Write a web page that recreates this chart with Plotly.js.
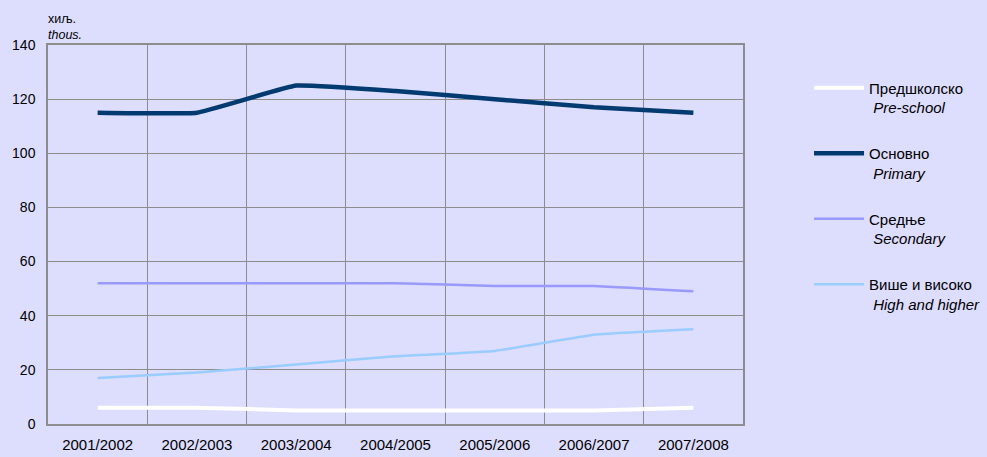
<!DOCTYPE html>
<html><head><meta charset="utf-8">
<script src="https://cdn.plot.ly/plotly-3.0.1.min.js"></script>
<style>body{margin:0;background:#DDDDFE}</style>
</head><body><div id="chart" style="width:987px;height:457px"></div>
<script>
const years = ["2001/2002","2002/2003","2003/2004","2004/2005","2005/2006","2006/2007","2007/2008"];
const preschool = [6, 6, 5, 5, 5, 5, 6];
const primary = [115, 115, 125, 123, 120, 117, 115];
const secondary = [52, 52, 52, 52, 51, 51, 49];
const higher = [17, 19, 22, 25, 27, 33, 35];
const names = ["Предшколско<br> <i>Pre-school</i>", "Основно<br> <i>Primary</i>", "Средње<br> <i>Secondary</i>", "Више и високо<br> <i>High and higher</i>"];

const mk = (y, name, color, width, g) => ({x: years, y: y, name: name, type: "scatter", mode: "lines", legendgroup: g,
  line: {color: color, width: width, shape: "spline", smoothing: 0.3}});
const data = [
  mk(preschool, names[0], "#FFFFFF", 4, "a"),
  mk(primary, names[1], "#003A70", 4.5, "b"),
  mk(secondary, names[2], "#9999FF", 2.5, "c"),
  mk(higher, names[3], "#99CCFF", 2.5, "d")
];
const layout = {
  width: 987, height: 457,
  margin: {l: 48, r: 244, t: 45, b: 33, autoexpand: false},
  paper_bgcolor: "#DDDDFE", plot_bgcolor: "#DDDDFE",
  font: {family: "Liberation Sans, Arial, sans-serif", size: 13, color: "#000"},
  xaxis: {type: "category", tickson: "boundaries", range: [-0.5, 6.5], showgrid: true, gridcolor: "#8C8C8C", gridwidth: 1,
    showline: true, linecolor: "#8C8C8C", linewidth: 1.5, mirror: true, ticks: "", ticklabelstandoff: 6, tickfont: {size: 15}},
  yaxis: {range: [0, 140], dtick: 20, showgrid: true, gridcolor: "#8C8C8C", gridwidth: 1, zeroline: false,
    showline: true, linecolor: "#8C8C8C", linewidth: 1.5, mirror: true, ticks: "", ticklabelstandoff: 8, tickfont: {size: 14}},
  legend: {x: 1.095, xanchor: "left", y: 0.93, yanchor: "top", bgcolor: "rgba(0,0,0,0)", valign: "top",
    tracegroupgap: 23.5, font: {size: 15}, itemwidth: 50},
  showlegend: true,
  annotations: [{xref: "paper", yref: "paper", x: 0, y: 1, xanchor: "left", yanchor: "bottom", align: "left",
    text: "хиљ.<br><i>thous.</i>", showarrow: false, font: {size: 12.5}, yshift: 1, xshift: -2}]
};
Plotly.newPlot("chart", data, layout, {displayModeBar: false});
</script></body></html>
